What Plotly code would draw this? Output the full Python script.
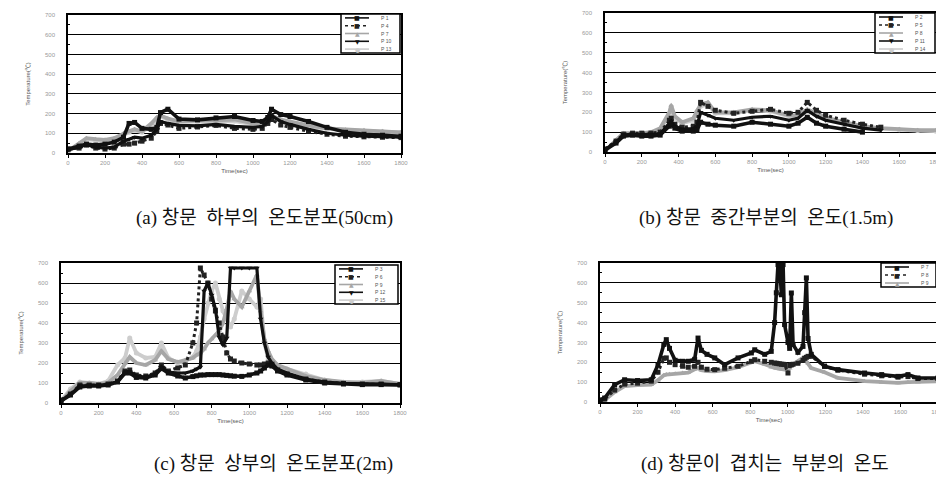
import plotly.graph_objects as go

W, H = 944, 485

# ---------------- data ----------------
X_TICKS = [0, 200, 400, 600, 800, 1000, 1200, 1400, 1600, 1800]
Y_TICKS = [0, 100, 200, 300, 400, 500, 600, 700]
X_TITLE = "Time(sec)"
Y_TITLE = "Temperature(℃)"

CAPTION_A = "(a) 창문\u00a0 하부의\u00a0 온도분포(50cm)"
CAPTION_B = "(b) 창문\u00a0 중간부분의\u00a0 온도(1.5m)"
CAPTION_C = "(c) 창문\u00a0 상부의\u00a0 온도분포(2m)"
CAPTION_D = "(d) 창문이\u00a0 겹치는\u00a0 부분의\u00a0 온도"

NAMES_A = ["P 1", "P 4", "P 7", "P 10", "P 13"]
NAMES_B = ["P 2", "P 5", "P 8", "P 11", "P 14"]
NAMES_C = ["P 3", "P 6", "P 9", "P 12", "P 15"]
NAMES_D = ["P 7", "P 8", "P 9"]

TIME_A = [0, 60, 100, 150, 200, 250, 300, 330, 360, 400, 450, 480, 500, 540, 600,
          700, 800, 900, 1000, 1050, 1080, 1100, 1150, 1200, 1300, 1400, 1500, 1600, 1700, 1800]
A_P1 = [20, 35, 45, 40, 45, 55, 80, 150, 155, 125, 120, 130, 205, 222, 172,
        168, 178, 185, 165, 160, 180, 222, 195, 185, 160, 130, 105, 95, 90, 85]
A_P2 = [20, 25, 40, 25, 20, 25, 45, 45, 50, 60, 75, 110, 150, 142, 125,
        132, 140, 125, 120, 125, 150, 170, 142, 130, 110, 95, 85, 82, 80, 78]
A_P3 = [10, 50, 75, 70, 67, 75, 100, 110, 120, 110, 150, 180, 190, 175, 160,
        165, 165, 170, 150, 150, 165, 190, 170, 160, 140, 125, 118, 115, 110, 105]
A_P4 = [15, 30, 42, 30, 25, 30, 60, 70, 80, 75, 90, 120, 160, 150, 140,
        138, 145, 135, 130, 135, 160, 190, 160, 145, 120, 100, 90, 85, 82, 80]
A_P5 = [8, 45, 70, 65, 62, 70, 95, 105, 115, 105, 140, 170, 185, 170, 155,
        160, 158, 162, 145, 145, 158, 182, 165, 155, 135, 122, 115, 112, 108, 104]

TIME_B = [0, 60, 100, 150, 200, 250, 300, 350, 360, 380, 420, 480, 500, 520, 560,
          600, 700, 800, 900, 1000, 1050, 1100, 1150, 1200, 1300, 1400, 1500, 1600, 1700, 1800]
B_P1 = [10, 45, 80, 85, 80, 80, 85, 130, 140, 120, 105, 105, 110, 150, 140,
        135, 130, 150, 140, 130, 145, 175, 145, 130, 115, 100, None, None, None, None]
B_P2 = [15, 55, 90, 95, 95, 95, 100, 160, 170, 140, 125, 130, 150, 250, 230,
        210, 195, 205, 215, 195, 200, 250, 210, 185, 160, 140, 125, None, None, None]
B_P3 = [5, 60, 95, 95, 95, 100, 120, 200, 235, 180, 150, 170, 210, 240, 250,
        200, 200, 215, 210, 185, 185, 215, 195, 175, 150, 130, 120, 115, 110, 110]
B_P4 = [12, 50, 85, 90, 88, 88, 92, 145, 155, 130, 115, 118, 130, 200, 185,
        170, 160, 175, 180, 160, 170, 210, 180, 160, 140, 120, 110, None, None, None]
B_P5 = [5, 55, 90, 92, 92, 95, 115, 185, 215, 170, 145, 160, 200, 230, 240,
        195, 195, 210, 205, 180, 180, 205, 190, 170, 145, 128, 118, 112, 108, 105]

TIME_C = [0, 50, 100, 150, 200, 250, 300, 340, 365, 400, 450, 500, 533, 570, 620,
          660, 700, 720, 740, 760, 780, 800, 820, 840, 860, 880, 900, 920, 960, 1000,
          1040, 1060, 1080, 1100, 1120, 1150, 1200, 1300, 1400, 1500, 1600, 1700, 1800]
C_P1 = [10, 40, 80, 85, 85, 90, 105, 150, 150, 128, 125, 140, 172, 150, 135,
        125, 132, 136, 140, 140, 142, 142, 142, 142, 140, 138, 136, 134, 133, 140,
        150, 160, 175, 190, 185, 160, 140, 115, 100, 95, 92, 92, 90]
C_P2 = [15, 45, 90, 90, 90, 95, 110, 160, 165, 140, 135, 150, 190, 160, 175,
        190, 300, 400, 675, 640, 600, 520, 460, 400, 330, 250, 220, 210, 200, 195,
        190, 190, 195, 200, 190, 165, 145, 120, 105, 98, 95, 95, 92]
C_P3 = [5, 60, 100, 100, 95, 100, 140, 200, 230, 200, 190, 215, 260, 220, 205,
        215, 225, 240, 250, 270, 300, 320, 340, 360, 400, 470, 560, 520, 480, 560,
        640, 460, 320, 260, 220, 190, 170, 135, 115, 105, 100, 110, 95]
C_P4 = [12, 42, 85, 88, 88, 92, 108, 155, 158, 135, 130, 145, 180, 155, 150,
        150, 160, 170, 180, 560, 600, 540, 470, 330, 290, 325, 675, 675, 675, 675,
        675, 420, 300, 230, 200, 170, 150, 120, 105, 98, 95, 95, 92]
C_P5 = [10, 70, 105, 100, 95, 110, 190, 225, 325, 250, 225, 230, 300, 225, 200,
        210, 230, 260, 330, 420, 500, 560, 600, 520, 460, 420, 380, 420, 560, 520,
        480, 520, 300, 220, 200, 185, 170, 145, 115, 100, 105, 110, 95]

TIME_D = [0, 25, 78, 131, 200, 273, 309, 340, 353, 370, 400, 440, 470, 504, 522,
          540, 570, 611, 664, 735, 806, 824, 877, 912, 930, 939, 948, 957, 966, 975,
          983, 1001, 1010, 1019, 1028, 1054, 1081, 1090, 1099, 1108, 1125, 1196, 1267,
          1409, 1500, 1587, 1640, 1693, 1800]
D_P7 = [10, 20, 87, 112, 108, 112, 188, 290, 314, 270, 210, 205, 205, 215, 322,
        260, 240, 222, 188, 222, 247, 263, 240, 255, 400, 550, 692, 692, 540, 692,
        390, 300, 270, 549, 290, 250, 280, 450, 625, 320, 240, 180, 163,
        146, 138, 129, 138, 121, 121]
D_P8 = [5, 15, 60, 90, 95, 105, 150, 220, 222, 200, 188, 180, 175, 180, 200,
        175, 165, 163, 170, 180, 205, 213, 205, 200, 196, 195, 193, 192, 190, 190,
        188, 146, 185, 188, 190, 195, 210, 220, 225, 230, 230, 180, 160,
        140, 132, 125, 128, 118, 118]
D_P9 = [0, 10, 50, 80, 85, 87, 110, 135, 138, 140, 142, 146, 148, 165, 171,
        160, 155, 154, 160, 175, 200, 205, 190, 175, 172, 170, 168, 166, 165, 164,
        163, 165, 170, 180, 190, 205, 222, 215, 205, 195, 171, 150, 121,
        105, 98, 96, 100, 100, 104]

# ---------------- styles ----------------
STYLES = [
    dict(color="#111111", dash="solid", symbol="square", glyph="■", width=3.6),
    dict(color="#222222", dash="dot", symbol="square", glyph="■", width=3.0),
    dict(color="#a6a6a6", dash="solid", symbol="triangle-up", glyph="▲", width=3.8),
    dict(color="#111111", dash="solid", symbol="triangle-down", glyph="▼", width=3.2),
    dict(color="#cdcdcd", dash="solid", symbol="circle", glyph="●", width=3.8),
]

# pixel boxes (left, top, right, bottom)
PANEL_BOX = [(60, 7, 393, 145), (597, 5, 928, 144), (53, 255, 392, 395), (592, 255, 930, 394)]
LEGEND_BOX = [(333, 6, 392, 45), (867, 5, 927, 45), (327, 257, 390, 296), (873, 255, 928, 279)]
CAPTION_POS = [(256, 210), (758, 210), (265, 456), (757, 456)]


def fx(px):
    return px / W


def fy(py):
    return 1 - py / H


panels = [
    (TIME_A, [A_P1, A_P2, A_P3, A_P4, A_P5], NAMES_A, CAPTION_A),
    (TIME_B, [B_P1, B_P2, B_P3, B_P4, B_P5], NAMES_B, CAPTION_B),
    (TIME_C, [C_P1, C_P2, C_P3, C_P4, C_P5], NAMES_C, CAPTION_C),
    (TIME_D, [D_P7, D_P8, D_P9], NAMES_D, CAPTION_D),
]

fig = go.Figure()
layout = dict(
    width=W, height=H, margin=dict(l=0, r=0, t=0, b=0),
    paper_bgcolor="white", plot_bgcolor="white", showlegend=False,
    font=dict(family="Liberation Sans, Noto Sans CJK KR", color="#444"),
)
shapes = []
annotations = []

draw_order = [4, 2, 1, 3, 0]

for i, (time, series, names, caption) in enumerate(panels):
    n = i + 1
    xa = "x" if n == 1 else f"x{n}"
    ya = "y" if n == 1 else f"y{n}"
    L, T, R, B = PANEL_BOX[i]
    for k in draw_order:
        if k >= len(series):
            continue
        st = STYLES[k]
        fig.add_trace(go.Scatter(
            x=time, y=series[k], name=names[k], mode="lines+markers",
            line=dict(color=st["color"], width=st["width"], dash=st["dash"]),
            marker=dict(symbol=st["symbol"], size=5, color=st["color"]),
            xaxis=xa, yaxis=ya, connectgaps=False,
        ))
    xkey = "xaxis" if n == 1 else f"xaxis{n}"
    ykey = "yaxis" if n == 1 else f"yaxis{n}"
    layout[xkey] = dict(
        domain=[fx(L), fx(R)], anchor=ya, range=[0, 1800], tickvals=X_TICKS,
        showgrid=False, zeroline=False, showline=True, linecolor="black", linewidth=1.5,
        mirror=True, ticks="outside", ticklen=3, tickcolor="black",
        tickfont=dict(size=6, color="#999"), automargin=False,
        title=dict(text=X_TITLE, font=dict(size=6, color="#555"), standoff=4),
    )
    layout[ykey] = dict(
        domain=[fy(B), fy(T)], anchor=xa, range=[0, 700], tickvals=Y_TICKS,
        showgrid=True, gridcolor="black", gridwidth=1, zeroline=False,
        showline=True, linecolor="black", linewidth=1.5, mirror=True,
        ticks="inside", ticklen=3, tickcolor="black",
        minor=dict(ticks="inside", ticklen=2, dtick=50, tickcolor="black", showgrid=False),
        tickfont=dict(size=6, color="#999"), automargin=False, ticklabelstandoff=10,
        title=dict(text=Y_TITLE, font=dict(size=6, color="#555"), standoff=14),
    )

    # legend box
    lL, lT, lR, lB = LEGEND_BOX[i]
    shapes.append(dict(type="rect", xref="paper", yref="paper",
                       x0=fx(lL), x1=fx(lR), y0=fy(lB), y1=fy(lT),
                       line=dict(color="black", width=1.5), fillcolor="white", layer="above"))
    nrow = len(series)
    pitch = (lB - lT) / nrow
    for k in range(nrow):
        st = STYLES[k]
        cy = lT + pitch * (k + 0.5)
        shapes.append(dict(type="line", xref="paper", yref="paper",
                           x0=fx(lL + 4), x1=fx(lL + 28), y0=fy(cy), y1=fy(cy),
                           line=dict(color=st["color"], width=1.6, dash=st["dash"]), layer="above"))
        annotations.append(dict(xref="paper", yref="paper", x=fx(lL + 16), y=fy(cy),
                                text=st["glyph"], showarrow=False, xanchor="center", yanchor="middle",
                                font=dict(size=6, color=st["color"], family="DejaVu Sans")))
        annotations.append(dict(xref="paper", yref="paper", x=fx(lL + 38), y=fy(cy),
                                text=names[k], showarrow=False, xanchor="left", yanchor="middle",
                                font=dict(size=5, color="#555")))

    cx, cyp = CAPTION_POS[i]
    annotations.append(dict(xref="paper", yref="paper", x=fx(cx), y=fy(cyp),
                            text=caption, showarrow=False, xanchor="center", yanchor="middle",
                            font=dict(size=19, color="#111",
                                      family="Liberation Serif, Noto Sans CJK KR")))

layout["shapes"] = shapes
layout["annotations"] = annotations
fig.update_layout(**layout)
fig.write_html("out.html")
